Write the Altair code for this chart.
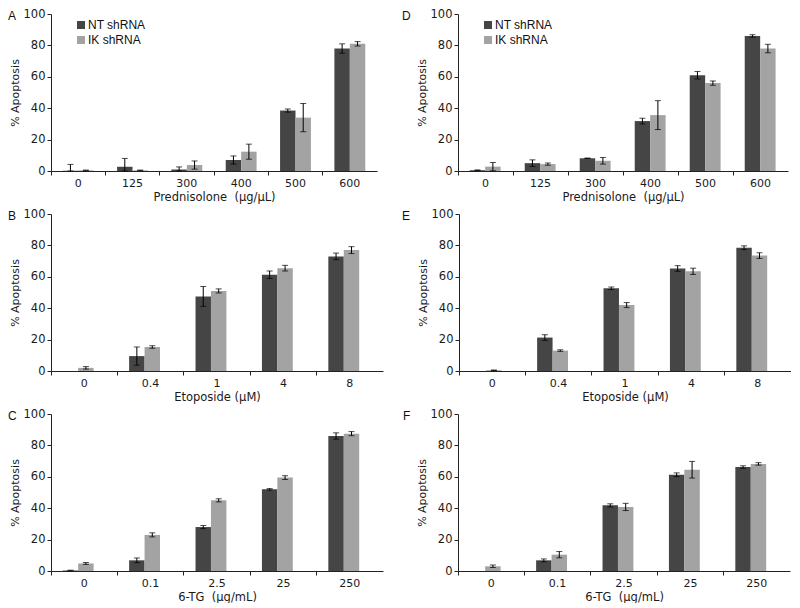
import altair as alt
import pandas as pd

series = ["NT shRNA", "IK shRNA"]
colors = ["#454545", "#a3a3a3"]

pred_doses = ["0", "125", "300", "400", "500", "600"]
eto_doses = ["0", "0.4", "1", "4", "8"]
tg_doses = ["0", "0.1", "2.5", "25", "250"]

# Panel A (Prednisolone)
a_nt = [0.2, 2.7, 1.0, 7.0, 38.5, 78.0]
a_nt_err = [4.0, 5.3, 1.6, 2.6, 1.0, 3.0]
a_ik = [0.4, 0.4, 3.8, 12.3, 34.0, 81.0]
a_ik_err = [0.2, 0.2, 2.6, 4.8, 9.0, 1.4]
# Panel D (Prednisolone)
d_nt = [0.5, 5.0, 8.1, 31.8, 61.0, 86.0]
d_nt_err = [0.2, 2.1, 0.2, 1.8, 2.4, 0.8]
d_ik = [2.8, 4.4, 6.5, 35.6, 56.0, 78.0]
d_ik_err = [2.6, 0.7, 2.1, 9.2, 1.4, 2.7]
# Panel B (Etoposide)
b_nt = [0.0, 9.5, 47.5, 61.3, 73.0]
b_nt_err = [0.0, 5.8, 6.3, 2.4, 2.1]
b_ik = [2.0, 15.3, 51.0, 65.5, 77.0]
b_ik_err = [0.8, 0.8, 1.3, 1.8, 2.2]
# Panel E (Etoposide)
e_nt = [0.0, 21.3, 52.7, 65.3, 78.5]
e_nt_err = [0.0, 1.8, 0.8, 1.8, 1.2]
e_ik = [0.5, 13.0, 42.0, 63.5, 73.5]
e_ik_err = [0.2, 0.5, 1.6, 2.0, 1.8]
# Panel C (6-TG)
c_nt = [0.3, 6.8, 28.0, 52.0, 86.0]
c_nt_err = [0.2, 1.5, 1.0, 0.5, 2.0]
c_ik = [4.8, 23.0, 45.0, 59.5, 87.5]
c_ik_err = [0.6, 1.3, 1.0, 1.2, 1.3]
# Panel F (6-TG)
f_nt = [0.0, 6.8, 41.8, 61.3, 66.2]
f_nt_err = [0.0, 0.9, 1.0, 1.2, 0.8]
f_ik = [3.0, 10.4, 40.8, 64.5, 68.2]
f_ik_err = [0.8, 2.0, 2.3, 5.3, 0.8]

y_ticks = [0, 20, 40, 60, 80, 100]
FONT = "DejaVu Sans"


def panel(letter, cats, nt, nt_err, ik, ik_err, xtitle, width, height, letter_dx, legend=False):
    rows = []
    for i, c in enumerate(cats):
        for s, v, e in ((series[0], nt[i], nt_err[i]), (series[1], ik[i], ik_err[i])):
            rows.append(dict(cat=c, series=s, value=v, err=e, lo=max(0.0, v - e), hi=v + e))
    df = pd.DataFrame(rows)

    xaxis = alt.Axis(labelAngle=0, bandPosition=0, tickSize=4, labelPadding=2,
                     titlePadding=3, labelFont=FONT, labelFontSize=11, titleFont=FONT,
                     titleFontSize=11.5, titleFontWeight="normal", labelColor="#1a1a1a",
                     titleColor="#1a1a1a", domainColor="#222", tickColor="#222")
    x = alt.X("cat:N", sort=cats, title=xtitle,
              scale=alt.Scale(paddingInner=0, paddingOuter=0), axis=xaxis)
    xo = alt.XOffset("series:N", sort=series,
                     scale=alt.Scale(paddingInner=0, paddingOuter=0.76))
    yscale = alt.Scale(domain=[0, 100], nice=False)
    yaxis = alt.Axis(values=y_ticks, tickSize=4, labelPadding=2, titlePadding=3,
                     labelFont=FONT, labelFontSize=11.5, titleFont=FONT, titleFontSize=11,
                     titleFontWeight="normal", labelColor="#1a1a1a", titleColor="#1a1a1a",
                     domainColor="#222", tickColor="#222", grid=False)

    def Y(field):
        return alt.Y(field, title="% Apoptosis", scale=yscale, axis=yaxis)

    col = alt.Color("series:N", scale=alt.Scale(domain=series, range=colors), legend=None)
    base = alt.Chart(df)
    bars = base.mark_bar().encode(x=x, xOffset=xo, y=Y("value:Q"), color=col)
    eb = base.transform_filter("datum.err > 0")
    rule = eb.mark_rule(color="black", strokeWidth=1).encode(
        x=x, xOffset=xo, y=Y("lo:Q"), y2="hi:Q")
    cap_hi = eb.mark_tick(color="black", thickness=1, size=6).encode(
        x=x, xOffset=xo, y=Y("hi:Q"))
    cap_lo = eb.mark_tick(color="black", thickness=1, size=6).encode(
        x=x, xOffset=xo, y=Y("lo:Q"))
    lt = alt.Chart(pd.DataFrame({"t": [letter]})).mark_text(
        align="left", baseline="top", font="Liberation Sans", fontSize=12, color="#111"
    ).encode(text="t:N", x=alt.value(letter_dx), y=alt.value(-3))
    layers = [bars, rule, cap_hi, cap_lo, lt]
    if legend:
        for k, s in enumerate(series):
            sdf = pd.DataFrame({"series": [s]})
            layers.append(alt.Chart(sdf).mark_square(size=64, opacity=1, filled=True).encode(
                x=alt.value(30), y=alt.value(11 + 15 * k), color=col))
            layers.append(alt.Chart(sdf).mark_text(
                align="left", baseline="middle", font="Liberation Sans", fontSize=12,
                color="#111").encode(x=alt.value(37), y=alt.value(11 + 15 * k), text="series:N"))
    return alt.layer(*layers).properties(width=width, height=height)


H = 157
pA = panel("A", pred_doses, a_nt, a_nt_err, a_ik, a_ik_err, "Prednisolone\u00a0 (µg/µL)", 326, H, -43, legend=True)
pD = panel("D", pred_doses, d_nt, d_nt_err, d_ik, d_ik_err, "Prednisolone\u00a0 (µg/µL)", 330, H, -56, legend=True)
pB = panel("B", eto_doses, b_nt, b_nt_err, b_ik, b_ik_err, "Etoposide (µM)", 332, H, -43)
pE = panel("E", eto_doses, e_nt, e_nt_err, e_ik, e_ik_err, "Etoposide (µM)", 332, H, -57)
pC = panel("C", tg_doses, c_nt, c_nt_err, c_ik, c_ik_err, "6-TG\u00a0 (µg/mL)", 332, H, -43)
pF = panel("F", tg_doses, f_nt, f_nt_err, f_ik, f_ik_err, "6-TG\u00a0 (µg/mL)", 332, H, -55)

chart = alt.vconcat(
    alt.hconcat(pA, pD, spacing=25),
    alt.hconcat(pB, pE, spacing=19),
    alt.hconcat(pC, pF, spacing=20),
    spacing=5,
).properties(
    padding={"left": 0, "top": 0, "right": 0, "bottom": 0},
    background="white",
).configure_view(stroke=None)

chart.save("out.html", embed_options={"renderer": "svg", "actions": False})
